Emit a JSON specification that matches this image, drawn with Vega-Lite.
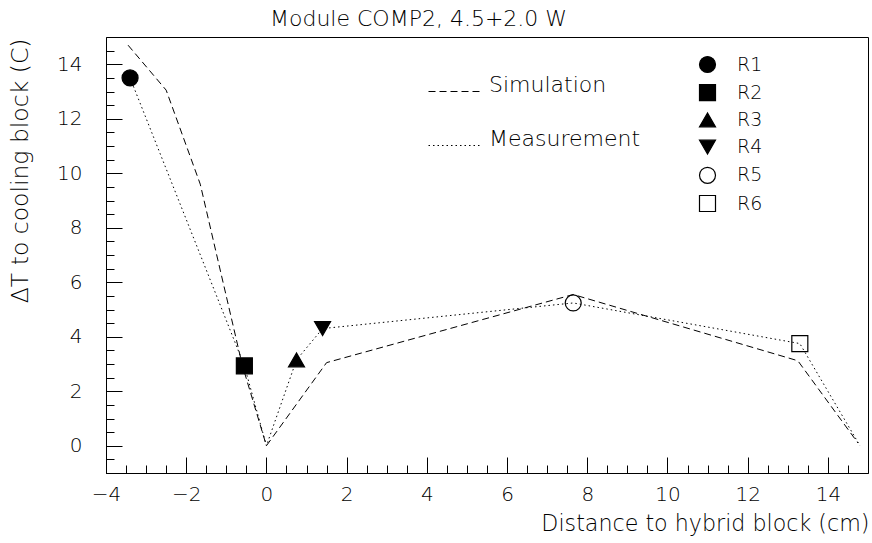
{
  "$schema": "https://vega.github.io/schema/vega-lite/v6.json",
  "width": 762,
  "height": 436,
  "autosize": {"type": "none"},
  "padding": {"left": 106, "top": 37, "right": 4, "bottom": 70},
  "background": "white",
  "title": {"text": "Module COMP2, 4.5+2.0 W", "anchor": "start", "frame": "group", "dx": 164, "dy": 23, "offset": 12, "baseline": "alphabetic", "fontSize": 22, "font": "DejaVu Sans", "fontWeight": 200, "color": "#000"},
  "config": {
    "view": {"stroke": "#000", "strokeWidth": 1},
    "axis": {"domain": false, "grid": false, "tickColor": "#000", "tickWidth": 1, "labelFont": "DejaVu Sans", "labelFontSize": 20, "labelFontWeight": 200, "labelColor": "#000", "titleFont": "DejaVu Sans", "titleFontSize": 22.2, "titleFontWeight": 200, "titleColor": "#000", "labelFlush": false, "labelOverlap": false},
    "legend": {"padding": 0, "labelFont": "DejaVu Sans", "labelFontWeight": 200, "labelColor": "#000", "labelLimit": 400, "title": null}
  },
  "datasets": {
    "lines": [
      {"series": "Simulation", "x": -3.45, "y": 14.7},
      {"series": "Simulation", "x": -2.5, "y": 13.05},
      {"series": "Simulation", "x": -1.65, "y": 9.6},
      {"series": "Simulation", "x": -0.6, "y": 2.95},
      {"series": "Simulation", "x": 0, "y": 0},
      {"series": "Simulation", "x": 1.5, "y": 3.05},
      {"series": "Simulation", "x": 7.65, "y": 5.55},
      {"series": "Simulation", "x": 13.25, "y": 3.12},
      {"series": "Simulation", "x": 14.75, "y": 0.1},
      {"series": "Measurement", "x": -3.4, "y": 13.5},
      {"series": "Measurement", "x": -0.55, "y": 2.93},
      {"series": "Measurement", "x": 0, "y": 0},
      {"series": "Measurement", "x": 0.75, "y": 3.15},
      {"series": "Measurement", "x": 1.4, "y": 4.3},
      {"series": "Measurement", "x": 7.65, "y": 5.24},
      {"series": "Measurement", "x": 13.3, "y": 3.75},
      {"series": "Measurement", "x": 14.8, "y": 0}
    ],
    "points": [
      {"name": "R1", "x": -3.4, "y": 13.5},
      {"name": "R2", "x": -0.55, "y": 2.93},
      {"name": "R3", "x": 0.75, "y": 3.15},
      {"name": "R4", "x": 1.4, "y": 4.3},
      {"name": "R5", "x": 7.65, "y": 5.24},
      {"name": "R6", "x": 13.3, "y": 3.75}
    ]
  },
  "resolve": {"axis": {"x": "independent", "y": "independent"}},
  "layer": [
    {
      "data": {"name": "lines"},
      "mark": {"type": "line", "color": "#000", "strokeWidth": 1},
      "encoding": {
        "x": {"field": "x", "type": "quantitative", "sort": null,
          "scale": {"domain": [-4, 15], "nice": false, "zero": false},
          "axis": {"orient": "bottom", "values": [-4, -2, 0, 2, 4, 6, 8, 10, 12, 14], "tickSize": -16, "labelPadding": 43, "labelBaseline": "alphabetic",
            "title": "Distance to hybrid block (cm)", "titleAnchor": "end", "titleAlign": "right", "titleBaseline": "alphabetic", "titleX": 763, "titleY": 57}},
        "y": {"field": "y", "type": "quantitative",
          "scale": {"domain": [-1, 15], "nice": false, "zero": false},
          "axis": {"orient": "left", "values": [0, 2, 4, 6, 8, 10, 12, 14], "tickSize": -16, "labelPadding": 40,
            "title": "ΔT to cooling block (C)", "titleFontSize": 23.5, "titleAngle": 270, "titleAnchor": "end", "titleAlign": "right", "titleBaseline": "alphabetic", "titleX": -79, "titleY": 1}},
        "strokeDash": {"field": "series", "type": "nominal",
          "scale": {"domain": ["Simulation", "Measurement"], "range": [[7, 4], [1.5, 3]]},
          "legend": {"orient": "none", "legendX": 322, "legendY": 27, "symbolType": "stroke", "symbolSize": 2916, "symbolStrokeWidth": 1, "symbolStrokeColor": "#000", "rowPadding": 22, "labelFontSize": 22, "labelOffset": 6, "labelBaseline": "alphabetic"}}
      }
    },
    {
      "data": {"name": "points"},
      "mark": {"type": "point", "stroke": "#000", "strokeWidth": 1.2, "opacity": 1, "size": 256},
      "encoding": {
        "x": {"field": "x", "type": "quantitative",
          "scale": {"domain": [-4, 15], "nice": false, "zero": false},
          "axis": {"orient": "bottom", "values": [-4, -3.5, -3, -2.5, -2, -1.5, -1, -0.5, 0, 0.5, 1, 1.5, 2, 2.5, 3, 3.5, 4, 4.5, 5, 5.5, 6, 6.5, 7, 7.5, 8, 8.5, 9, 9.5, 10, 10.5, 11, 11.5, 12, 12.5, 13, 13.5, 14, 14.5, 15], "tickSize": -8, "labels": false, "title": null}},
        "y": {"field": "y", "type": "quantitative",
          "scale": {"domain": [-1, 15], "nice": false, "zero": false},
          "axis": {"orient": "left", "values": [-1, -0.5, 0, 0.5, 1, 1.5, 2, 2.5, 3, 3.5, 4, 4.5, 5, 5.5, 6, 6.5, 7, 7.5, 8, 8.5, 9, 9.5, 10, 10.5, 11, 11.5, 12, 12.5, 13, 13.5, 14, 14.5, 15], "tickSize": -8, "labels": false, "title": null}},
        "shape": {"field": "name", "type": "nominal",
          "scale": {"domain": ["R1", "R2", "R3", "R4", "R5", "R6"], "range": ["circle", "square", "triangle-up", "triangle-down", "circle", "square"]},
          "legend": {"orient": "none", "legendX": 592, "legendY": 18, "symbolSize": 256, "symbolStrokeColor": "#000", "symbolStrokeWidth": 1.2, "symbolOpacity": 1, "rowPadding": 7.2, "labelFontSize": 19, "labelOffset": 20,
            "encode": {"symbols": {"update": {"stroke": {"value": "#000"}, "strokeWidth": {"value": 1.2}, "opacity": {"value": 1}}}}}},
        "fill": {"field": "name", "type": "nominal",
          "scale": {"domain": ["R1", "R2", "R3", "R4", "R5", "R6"], "range": ["#000", "#000", "#000", "#000", "transparent", "transparent"]},
          "legend": {"orient": "none", "legendX": 592, "legendY": 18, "symbolSize": 256, "symbolStrokeColor": "#000", "symbolStrokeWidth": 1.2, "symbolOpacity": 1, "rowPadding": 7.2, "labelFontSize": 19, "labelOffset": 20,
            "encode": {"symbols": {"update": {"stroke": {"value": "#000"}, "strokeWidth": {"value": 1.2}, "opacity": {"value": 1}}}}}}
      }
    }
  ]
}
